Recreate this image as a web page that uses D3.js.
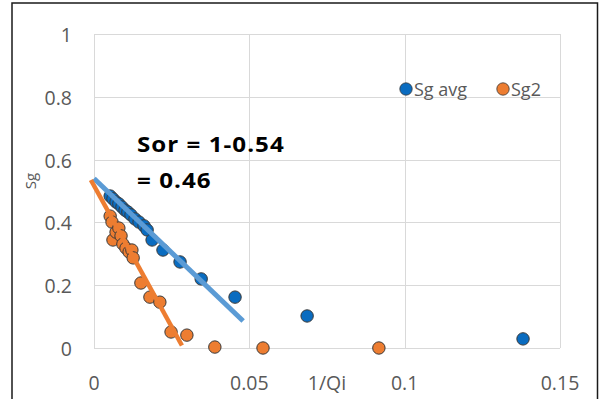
<!DOCTYPE html>
<html>
<head>
<meta charset="utf-8">
<script src="https://cdn.jsdelivr.net/npm/d3@7"></script>
<style>
  html, body { margin: 0; padding: 0; background: #fff; }
  svg { display: block; }
</style>
</head>
<body>
<svg id="chart" width="599" height="399"></svg>
<script>
// Gas saturation vs inverse pore volumes injected
const sgAvgX = [0.0052, 0.0061, 0.0071, 0.0080, 0.0090, 0.0100, 0.0109, 0.0119, 0.0132, 0.0145,
                0.0161, 0.0171, 0.0187, 0.0222, 0.0277, 0.0345, 0.0454, 0.0686, 0.1381];
const sgAvgY = [0.484, 0.475, 0.465, 0.459, 0.449, 0.439, 0.433, 0.424, 0.411, 0.401,
                0.389, 0.376, 0.344, 0.312, 0.274, 0.220, 0.162, 0.102, 0.029];

const sg2X = [0.0052, 0.0058, 0.0061, 0.0071, 0.0080, 0.0087, 0.0093, 0.0103, 0.0113, 0.0122,
              0.0126, 0.0151, 0.0180, 0.0212, 0.0248, 0.0299, 0.0389, 0.0544, 0.0917];
const sg2Y = [0.420, 0.401, 0.344, 0.369, 0.382, 0.357, 0.331, 0.318, 0.306, 0.312,
              0.287, 0.207, 0.162, 0.146, 0.051, 0.041, 0.003, 0.000, 0.000];

// Linear trend lines (intercept 0.54 for Sg avg)
const trendAvg = [[0, 0.54], [0.048, 0.086]];
const trendSg2 = [[-0.001, 0.535], [0.0283, 0.008]];

const xTicks = [0, 0.05, 0.1, 0.15];
const yTicks = [0, 0.2, 0.4, 0.6, 0.8, 1];
const seriesNames = ["Sg avg", "Sg2"];
const noteLines = ["Sor = 1-0.54", "= 0.46"];

const colors = { avg: "#0a6cc0", sg2: "#ed7d31", avgLine: "#5b9bd5", sg2Line: "#ed7d31" };
const textColor = "#595959";
const font = "'Open Sans', 'Liberation Sans', sans-serif";

const svg = d3.select("#chart");
const x = d3.scaleLinear().domain([0, 0.15]).range([94, 560]);
const y = d3.scaleLinear().domain([0, 1]).range([348, 34]);

// Outer frame
svg.append("rect")
  .attr("x", 12).attr("y", 3).attr("width", 585.5).attr("height", 410)
  .attr("fill", "none").attr("stroke", "#1a1a1a").attr("stroke-width", 1.5);

// Gridlines
const grid = svg.append("g").attr("stroke", "#d9d9d9").attr("stroke-width", 1.2).attr("shape-rendering", "crispEdges");
grid.selectAll("line.h").data(yTicks).join("line")
  .attr("x1", x(0)).attr("x2", x(0.15))
  .attr("y1", d => Math.round(y(d)) + 0.5).attr("y2", d => Math.round(y(d)) + 0.5);
grid.selectAll("line.v").data(xTicks).join("line")
  .attr("y1", y(0)).attr("y2", y(1))
  .attr("x1", d => Math.round(x(d)) + 0.5).attr("x2", d => Math.round(x(d)) + 0.5);

// Y tick labels
svg.append("g").selectAll("text").data(yTicks).join("text")
  .attr("x", 72).attr("y", d => y(d) + 8)
  .attr("text-anchor", "end")
  .attr("font-family", font).attr("font-size", 19.5).attr("fill", textColor)
  .text(d => d3.format("~g")(d));

// X tick labels
svg.append("g").selectAll("text").data(xTicks).join("text")
  .attr("x", d => x(d)).attr("y", 390)
  .attr("text-anchor", "middle")
  .attr("font-family", font).attr("font-size", 19.5).attr("fill", textColor)
  .text(d => d3.format("~g")(d));

// Axis titles
svg.append("text")
  .attr("x", 327).attr("y", 390).attr("text-anchor", "middle")
  .attr("font-family", font).attr("font-size", 19.5).attr("fill", textColor)
  .text("1/Qi");
svg.append("text")
  .attr("transform", "translate(36,181) rotate(-90)").attr("text-anchor", "middle")
  .attr("font-family", font).attr("font-size", 15).attr("fill", textColor)
  .text("Sg");

// Points
function drawPoints(xs, ys, fill) {
  svg.append("g").selectAll("circle").data(xs.map((v, i) => [v, ys[i]])).join("circle")
    .attr("cx", d => x(d[0])).attr("cy", d => y(d[1])).attr("r", 6.2)
    .attr("fill", fill).attr("stroke", "#3a3a3a").attr("stroke-width", 1);
}
drawPoints(sgAvgX, sgAvgY, colors.avg);
drawPoints(sg2X, sg2Y, colors.sg2);

// Trend lines
const line = d3.line().x(d => x(d[0])).y(d => y(d[1]));
svg.append("path").datum(trendAvg).attr("d", line)
  .attr("stroke", colors.avgLine).attr("stroke-width", 5).attr("fill", "none");
svg.append("path").datum(trendSg2).attr("d", line)
  .attr("stroke", colors.sg2Line).attr("stroke-width", 4.5).attr("fill", "none");

// Legend
const legend = svg.append("g");
const legendItems = [
  { name: seriesNames[0], color: colors.avg, cx: 406, tx: 414 },
  { name: seriesNames[1], color: colors.sg2, cx: 503, tx: 511 }
];
legendItems.forEach(it => {
  legend.append("circle").attr("cx", it.cx).attr("cy", 89).attr("r", 6.2)
    .attr("fill", it.color).attr("stroke", "#3a3a3a").attr("stroke-width", 0.8);
  legend.append("text").attr("x", it.tx).attr("y", 95.5)
    .attr("font-family", font).attr("font-size", 18).attr("fill", textColor)
    .text(it.name);
});

// Residual oil saturation note (slightly widened bold text)
svg.append("g").attr("transform", "translate(137,0) scale(1.15,1)")
  .selectAll("text").data(noteLines).join("text")
  .attr("x", 0).attr("y", (d, i) => 152 + i * 36)
  .attr("font-family", "'Open Sans', 'Liberation Sans', sans-serif").attr("font-weight", "bold")
  .attr("font-size", 21).attr("letter-spacing", 0.9).attr("fill", "#000")
  .text(d => d);
</script>
</body>
</html>
